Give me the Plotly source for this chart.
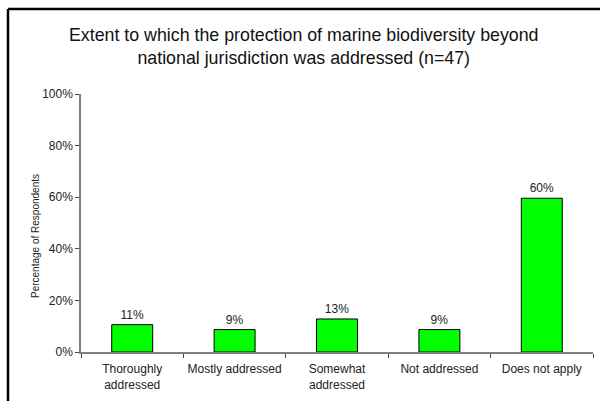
import plotly.graph_objects as go

categories = ["Thoroughly<br>addressed", "Mostly addressed", "Somewhat<br>addressed",
              "Not addressed", "Does not apply"]
values = [10.6, 8.7, 12.8, 8.7, 59.6]
y_ticks = [0, 20, 40, 60, 80, 100]
y_tick_labels = ["0%", "20%", "40%", "60%", "80%", "100%"]

L, R, T, B = 81, 7, 94, 49
W, H = 600, 401
pw, ph = W - L - R, H - T - B

fig = go.Figure(go.Bar(
    x=categories, y=values, width=0.4,
    marker=dict(color="#00FF00", line=dict(color="black", width=1)),
    text=[f"{v:.0f}%" for v in values], textposition="outside",
    textfont=dict(family="Liberation Sans, Arial", size=12, color="#222"),
    cliponaxis=False,
))

bx = (8 - L) / pw
by = 1 + (T - 9) / ph
fig.update_layout(
    width=W, height=H, margin=dict(l=L, r=R, t=T, b=B, autoexpand=False),
    paper_bgcolor="white", plot_bgcolor="white",
    font=dict(family="Liberation Sans, Arial", size=12, color="#222"),
    showlegend=False, bargap=0.6,
    xaxis=dict(showline=True, linecolor="#808080", linewidth=1.5, ticks="outside",
               tickson="boundaries", ticklen=4, tickcolor="#444",
               ticklabelstandoff=5, tickangle=0, automargin=False,
               tickfont=dict(size=12, color="#222"), showgrid=False),
    yaxis=dict(range=[0, 100], tickvals=y_ticks, ticktext=y_tick_labels,
               showline=True, linecolor="#808080", linewidth=1.5, ticks="outside",
               ticklen=4, tickcolor="#444", showgrid=False, zeroline=False,
               automargin=False, tickfont=dict(size=12, color="#222")),
    shapes=[
        dict(type="line", xref="paper", yref="paper", x0=bx, x1=1 + R / pw,
             y0=by, y1=by, line=dict(color="black", width=2.5)),
        dict(type="line", xref="paper", yref="paper", x0=bx, x1=bx,
             y0=-B / ph, y1=by, line=dict(color="black", width=2.5)),
    ],
    annotations=[
        dict(text="Extent to which the protection of marine biodiversity beyond<br>national jurisdiction was addressed (n=47)",
             xref="paper", yref="paper", x=(303 - L) / pw, y=1 + (T - 46) / ph,
             showarrow=False, font=dict(size=17.8, color="#111"), xanchor="center", yanchor="middle"),
        dict(text="Percentage of Respondents", xref="paper", yref="paper",
             x=(35 - L) / pw, y=(H - B - 236) / ph, textangle=-90, showarrow=False,
             font=dict(size=10, color="#222"), xanchor="center", yanchor="middle"),
    ],
)

fig.write_html("out.html")
